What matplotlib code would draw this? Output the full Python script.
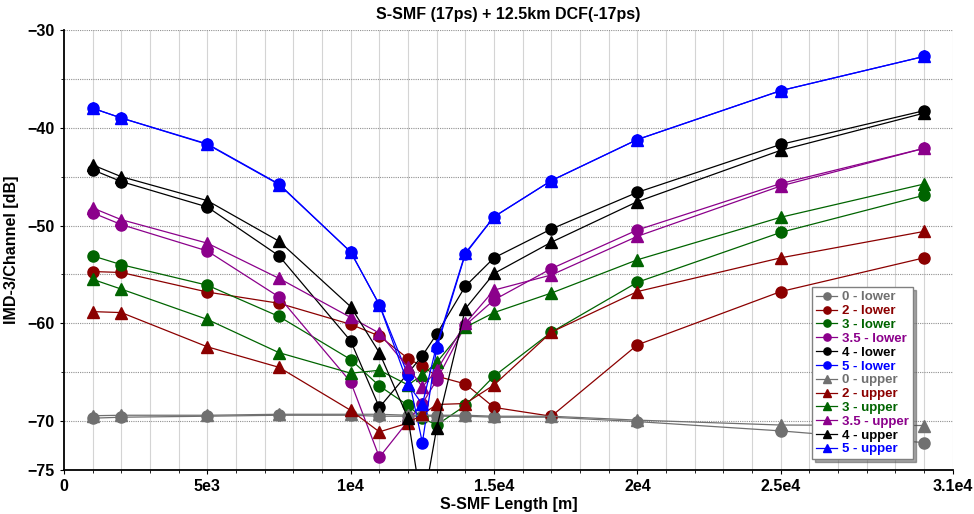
import matplotlib
matplotlib.use("Agg")
import matplotlib.pyplot as plt
from matplotlib.ticker import MultipleLocator, FixedLocator

plt.rcParams['font.family'] = ['Liberation Sans Narrow', 'Liberation Sans', 'DejaVu Sans']
plt.rcParams['font.weight'] = 'bold'

# S-SMF length [m]
length = [1000, 2000, 5000, 7500, 10000, 11000, 12000, 12500, 13000, 14000, 15000, 17000, 20000, 25000, 30000]

# IMD-3 per channel [dB], lower side
lower_0 = [-69.7, -69.6, -69.5, -69.4, -69.4, -69.5, -69.5, -69.5, -69.5, -69.5, -69.6, -69.6, -70.05, -71.0, -72.2]
lower_2 = [-54.7, -54.8, -56.8, -57.95, -60.1, -61.3, -63.6, -64.4, -65.4, -66.2, -68.6, -69.5, -62.2, -56.75, -53.3]
lower_3 = [-53.1, -54.0, -56.1, -59.3, -63.7, -66.4, -68.4, -69.7, -70.4, -68.4, -65.4, -60.9, -55.8, -50.7, -46.9]
lower_35 = [-48.7, -49.9, -52.6, -57.3, -66.0, -73.7, -70.0, -68.2, -65.8, -60.2, -57.6, -54.4, -50.45, -45.7, -42.1]
lower_4 = [-44.3, -45.5, -48.1, -53.1, -61.8, -68.6, -65.1, -63.3, -61.1, -56.2, -53.3, -50.35, -46.6, -41.7, -38.25]
lower_5 = [-38.0, -39.0, -41.65, -45.75, -52.7, -58.1, -65.3, -72.2, -62.5, -52.9, -49.1, -45.4, -41.2, -36.2, -32.7]

# upper side
upper_0 = [-69.45, -69.4, -69.4, -69.3, -69.3, -69.3, -69.4, -69.4, -69.4, -69.4, -69.5, -69.5, -69.9, -70.4, -70.45]
upper_2 = [-58.8, -58.9, -62.4, -64.5, -68.9, -71.1, -70.2, -69.3, -68.3, -68.2, -66.3, -60.9, -56.75, -53.3, -50.6]
upper_3 = [-55.5, -56.5, -59.6, -63.0, -65.1, -64.8, -66.3, -65.3, -64.0, -60.4, -58.9, -56.9, -53.5, -49.15, -45.75]
upper_35 = [-48.2, -49.4, -51.8, -55.4, -59.4, -61.0, -64.5, -66.5, -64.8, -60.0, -56.6, -55.05, -51.1, -45.95, -42.1]
upper_4 = [-43.8, -45.0, -47.45, -51.6, -58.3, -63.0, -69.7, -79.0, -70.7, -58.5, -54.9, -51.7, -47.55, -42.3, -38.5]
upper_5 = [-38.0, -39.0, -41.7, -45.8, -52.7, -58.1, -66.2, -68.3, -62.2, -52.8, -49.1, -45.4, -41.2, -36.2, -32.7]

names = ['0', '2', '3', '3.5', '4', '5']
colors = ['#707070', '#8b0000', '#006400', '#8b008b', '#000000', '#0000ff']
lowers = [lower_0, lower_2, lower_3, lower_35, lower_4, lower_5]
uppers = [upper_0, upper_2, upper_3, upper_35, upper_4, upper_5]

fig = plt.figure(figsize=(9.74, 5.14), dpi=100)
ax = fig.add_axes([0.0657, 0.0856, 0.9125, 0.856])

for name, c, ys in zip(names, colors, lowers):
  ax.plot(length, ys, color=c, lw=0.9, marker='o', ms=8, label=name + ' - lower')
for name, c, ys in zip(names, colors, uppers):
  ax.plot(length, ys, color=c, lw=0.9, marker='^', ms=8, label=name + ' - upper')

ax.set_xlim(0, 31000)
ax.set_ylim(-75, -30)
ax.xaxis.set_major_locator(FixedLocator([0, 5000, 10000, 15000, 20000, 25000, 31000]))
ax.set_xticklabels(['0', '5e3', '1e4', '1.5e4', '2e4', '2.5e4', '3.1e4'])
ax.xaxis.set_minor_locator(MultipleLocator(1000))
ax.yaxis.set_major_locator(FixedLocator([-75, -70, -60, -50, -40, -30]))
ax.yaxis.set_minor_locator(FixedLocator([-65, -55, -45, -35]))
ax.tick_params(axis='both', which='major', labelsize=11.5, length=3)
ax.tick_params(axis='both', which='minor', length=2)

# vertical grid every 1000 m, dotted horizontal grid every 5 dB
for xv in range(1000, 31001, 1000):
  ax.axvline(xv, color='#d4d4d4', lw=0.8, zorder=0)
for yv in range(-70, -29, 5):
  ax.axhline(yv, color='#909090', lw=0.8, ls=(0, (1, 1)), zorder=0)

ax.spines['top'].set_visible(False)
ax.spines['right'].set_visible(False)
ax.spines['left'].set_linewidth(1.3)
ax.spines['bottom'].set_linewidth(1.3)

ax.set_title('S-SMF (17ps) + 12.5km DCF(-17ps)', fontsize=11.5, fontweight='bold', pad=8)
ax.set_xlabel('S-SMF Length [m]', fontsize=11.5, fontweight='bold', labelpad=2)
ax.set_ylabel('IMD-3/Channel [dB]', fontsize=11.5, fontweight='bold', labelpad=6)

leg = ax.legend(loc='lower right', bbox_to_anchor=(0.963, 0.009), fontsize=9.5, labelcolor='linecolor',
                handlelength=1.6, handletextpad=0.4, labelspacing=0.12, borderpad=0.3,
                markerscale=0.65, fancybox=False, shadow=True, framealpha=1, edgecolor='#808080')
for t in leg.get_texts():
  t.set_fontweight('bold')

fig.savefig('out.png', dpi=100)
